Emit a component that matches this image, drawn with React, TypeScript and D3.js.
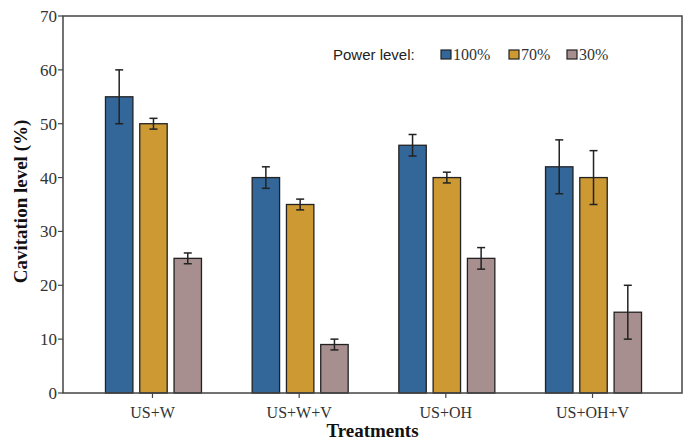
import React from "react";
import { scaleBand, scaleLinear } from "d3";

const treatments = ["US+W", "US+W+V", "US+OH", "US+OH+V"];
const levels = ["100%", "70%", "30%"];
const means = [
  [55, 50, 25],
  [40, 35, 9],
  [46, 40, 25],
  [42, 40, 15],
];
const errors = [
  [5, 1, 1],
  [2, 1, 1],
  [2, 1, 2],
  [5, 5, 5],
];
const yTicks = [0, 10, 20, 30, 40, 50, 60, 70];
const colors = ["#336699", "#cc9933", "#a88f8f"];

export default function App() {
  const width = 688,
    height = 442,
    left = 63,
    right = 682,
    top = 16,
    bottom = 393;

  const x = scaleBand<string>()
    .domain(treatments)
    .range([left, right])
    .paddingInner(0)
    .paddingOuter(0.11);
  const inner = scaleBand<string>()
    .domain(levels)
    .range([-47, 49])
    .paddingInner(0.2);
  const y = scaleLinear().domain([0, 70]).range([bottom, top]);

  const serif = "'Liberation Serif', 'Times New Roman', serif";
  const sans = "'Liberation Sans', Arial, sans-serif";
  const cap = 4;

  return (
    <svg
      width={width}
      height={height}
      style={{ position: "absolute", left: 0, top: 0, background: "#fff" }}
    >
      {/* bars */}
      {treatments.map((t, i) => {
        const cx = x(t)! + x.bandwidth() / 2;
        return (
          <g key={t}>
            {levels.map((l, j) => {
              const bx = cx + inner(l)!;
              const mid = bx + inner.bandwidth() / 2;
              const v = means[i][j];
              const e = errors[i][j];
              return (
                <g key={l}>
                  <rect
                    x={bx}
                    y={y(v)}
                    width={inner.bandwidth()}
                    height={y(0) - y(v)}
                    fill={colors[j]}
                    stroke="#222"
                    strokeWidth={1.3}
                  />
                  <g stroke="#222" strokeWidth={1.5}>
                    <line x1={mid} x2={mid} y1={y(v + e)} y2={y(v - e)} />
                    <line x1={mid - cap} x2={mid + cap} y1={y(v + e)} y2={y(v + e)} />
                    <line x1={mid - cap} x2={mid + cap} y1={y(v - e)} y2={y(v - e)} />
                  </g>
                </g>
              );
            })}
            <line x1={cx} x2={cx} y1={bottom} y2={bottom + 5} stroke="#444" strokeWidth={1.2} />
            <text
              x={cx}
              y={418}
              textAnchor="middle"
              fontFamily={serif}
              fontSize={16}
              fill="#333"
            >
              {t}
            </text>
          </g>
        );
      })}

      {/* frame */}
      <rect
        x={left}
        y={top}
        width={right - left}
        height={bottom - top}
        fill="none"
        stroke="#444"
        strokeWidth={1.5}
      />

      {/* y axis */}
      {yTicks.map((t) => (
        <g key={t}>
          <line x1={left - 5} x2={left} y1={y(t)} y2={y(t)} stroke="#444" strokeWidth={1.2} />
          <text
            x={left - 6}
            y={y(t)}
            dy="0.35em"
            textAnchor="end"
            fontFamily={serif}
            fontSize={17}
            fill="#333"
          >
            {t}
          </text>
        </g>
      ))}

      <text
        transform={`translate(27,${(top + bottom) / 2 - 3}) rotate(-90)`}
        textAnchor="middle"
        fontFamily={serif}
        fontWeight="bold"
        fontSize={19}
        fill="#111"
      >
        Cavitation level (%)
      </text>
      <text
        x={(left + right) / 2}
        y={437}
        textAnchor="middle"
        fontFamily={serif}
        fontWeight="bold"
        fontSize={19}
        fill="#111"
      >
        Treatments
      </text>

      {/* legend */}
      <text x={333} y={60} fontFamily={sans} fontSize={15} fill="#222">
        Power level:
      </text>
      {levels.map((l, j) => {
        const lx = [441, 509, 567][j];
        return (
          <g key={l}>
            <rect x={lx} y={50} width={10} height={9} fill={colors[j]} stroke="#222" strokeWidth={1.2} />
            <text x={lx + 12} y={60} fontFamily={serif} fontSize={16} fill="#333">
              {l}
            </text>
          </g>
        );
      })}
    </svg>
  );
}
